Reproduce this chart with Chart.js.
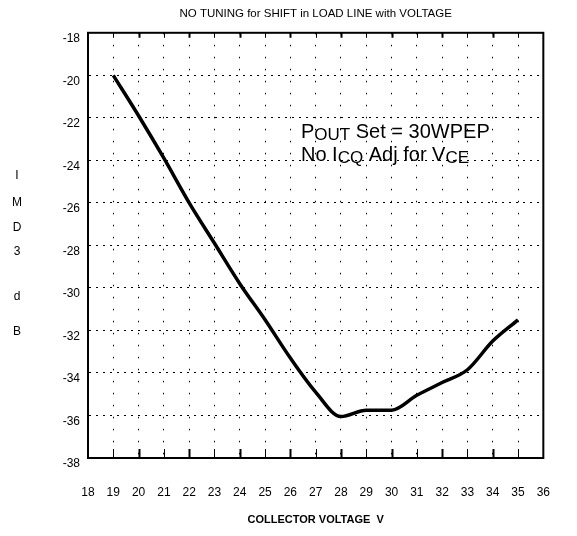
<!DOCTYPE html>
<html>
<head>
<meta charset="utf-8">
<script src="https://cdn.jsdelivr.net/npm/chart.js@4"></script>
<style>
  html, body { margin:0; padding:0; background:#fff; }
</style>
</head>
<body>
<canvas id="imdChart" width="577" height="536"></canvas>
<script>
// values
const voltage = [19, 20, 21, 22, 23, 24, 25, 26, 27, 28, 29, 30, 31, 32, 33, 34, 35];
const imd3 = [-20, -21.9, -23.9, -26.0, -27.9, -29.8, -31.5, -33.3, -34.9, -36.05, -35.75, -35.75, -35.05, -34.45, -33.85, -32.5, -31.5];

const xTickValues = [18,19,20,21,22,23,24,25,26,27,28,29,30,31,32,33,34,35,36];
const yTickValues = [-38,-36,-34,-32,-30,-28,-26,-24,-22,-20,-18];

const FONT = "'Liberation Sans', Arial, sans-serif";
Chart.defaults.font.family = FONT;
Chart.defaults.color = '#000';

// frame, inner ticks and the free text
const extras = {
  id: 'extras',
  afterDatasetsDraw(chart){
    const {ctx, chartArea:a, scales:{x}} = chart;
    ctx.save();
    ctx.strokeStyle = '#000';
    ctx.lineWidth = 2;
    ctx.strokeRect(a.left, a.top, a.right - a.left, a.bottom - a.top);
    xTickValues.slice(1, -1).forEach(v=>{
      const px = Math.round(x.getPixelForValue(v)) + 0.5;
      ctx.lineWidth = v % 2 === 0 ? 2 : 1;
      ctx.beginPath();
      ctx.moveTo(px, a.bottom); ctx.lineTo(px, a.bottom - 9);
      ctx.moveTo(px, a.top); ctx.lineTo(px, a.top + 5);
      ctx.stroke();
    });
    ctx.restore();
  },
  afterDraw(chart){
    const ctx = chart.ctx;
    ctx.save();
    ctx.fillStyle = '#000';

    // stacked y title
    ctx.font = '12px ' + FONT;
    ctx.textAlign = 'center';
    ctx.textBaseline = 'middle';
    const letters = ['I','M','D','3','d','B'];
    const ly = [176, 203, 228, 252, 297, 332];
    letters.forEach((t,i)=>ctx.fillText(t, 17, ly[i]));

    // annotation with subscripts
    ctx.textAlign = 'left';
    ctx.textBaseline = 'alphabetic';
    function runs(parts, x0, y0){
      let xx = x0;
      parts.forEach(([txt, sub])=>{
        ctx.font = (sub ? '17px ' : '20px ') + FONT;
        ctx.fillText(txt, xx, y0 + (sub ? 2 : 0));
        xx += ctx.measureText(txt).width;
      });
    }
    runs([['P',0],['OUT',1],[' Set = 30WPEP',0]], 301, 138);
    runs([['No I',0],['CQ',1],[' Adj for V',0],['CE',1]], 301, 161);
    ctx.restore();
  }
};

new Chart(document.getElementById('imdChart').getContext('2d'), {
  type: 'line',
  data: {
    datasets: [{
      data: voltage.map((v,i)=>({x:v, y:imd3[i]})),
      borderColor: '#000',
      borderWidth: 3.5,
      pointRadius: 0,
      fill: false,
      cubicInterpolationMode: 'monotone'
    }]
  },
  options: {
    responsive: false,
    animation: false,
    layout: { padding: { left:0, right:14, top:0, bottom:0 } },
    plugins: {
      legend: { display:false },
      tooltip: { enabled:false },
      title: {
        display: true,
        fullSize: false,
        text: 'NO TUNING for SHIFT in LOAD LINE with VOLTAGE',
        color: '#000',
        font: { size:11.5, weight:'normal' },
        padding: { top:7, bottom:12 }
      }
    },
    scales: {
      x: {
        type: 'linear', min:18, max:36,
        afterBuildTicks(s){ s.ticks = xTickValues.map(v=>({value:v})); },
        afterFit(s){ s.height = 78; },
        grid: { color:'#000', lineWidth:1, drawTicks:false },
        border: { display:true, color:'#000', width:2, dash:[1.5,10.5] },
        ticks: { padding:27, color:'#000', font:{size:12}, autoSkip:false, maxRotation:0 },
        title: { display:true, text:'COLLECTOR VOLTAGE  V', color:'#000', font:{size:11, weight:'bold'}, padding:{top:0, bottom:9.5} }
      },
      y: {
        type: 'linear', min:-38, max:-18,
        afterBuildTicks(s){ s.ticks = yTickValues.map(v=>({value:v})); },
        afterFit(s){ s.width = 88; },
        grid: { color:'#000', lineWidth:1, drawTicks:false },
        border: { display:true, color:'#000', width:2, dash:[2,5] },
        ticks: { padding:8, labelOffset:6, color:'#000', font:{size:12} }
      }
    }
  },
  plugins: [extras]
});
</script>
</body>
</html>
